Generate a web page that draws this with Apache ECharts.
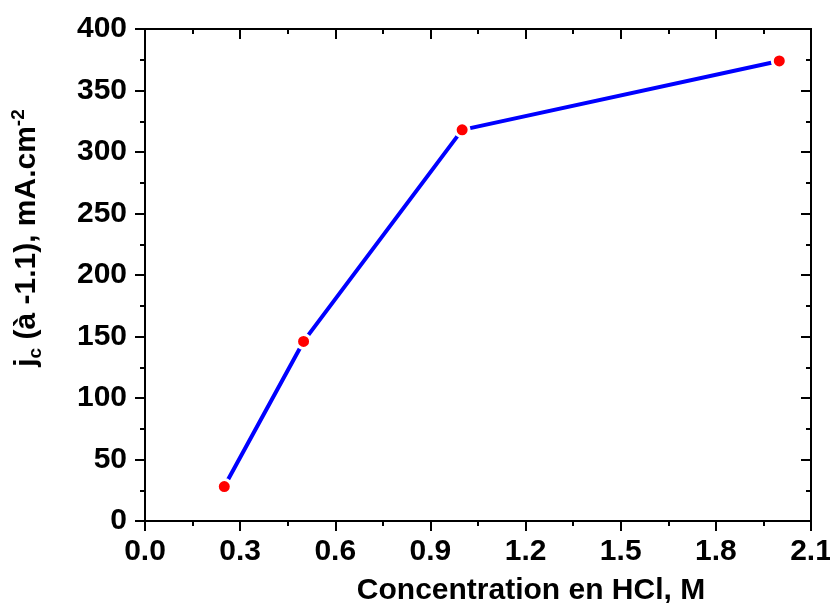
<!DOCTYPE html>
<html>
<head>
<meta charset="utf-8">
<script src="https://cdn.jsdelivr.net/npm/echarts@6/dist/echarts.min.js"></script>
<style>
  html, body { margin: 0; padding: 0; background: #fff; }
</style>
</head>
<body>
<div id="main" style="width: 830px; height: 603px;"></div>
<script>
  // concentration (M) vs current density
  var conc = [0.25, 0.5, 1.0, 2.0]
  var jc = [28, 146, 318, 374]
  var xMin = 0, xMax = 2.1, xStep = 0.3
  var yMin = 0, yMax = 400, yStep = 50

  var font = '"Liberation Sans", Arial, sans-serif'
  var labelStyle = { fontFamily: font, fontWeight: 'bold', fontSize: 30, color: '#000' }
  var lineStyle = { color: '#000', width: 2 }

  var chart = echarts.init(document.getElementById('main'))
  var points = []
  for (var i = 0; i < conc.length; i++) {
    points.push([conc[i], jc[i]])
  }

  chart.setOption({
    animation: false,
    grid: {
      left: 145, right: 19, top: 29, bottom: 82,
      outerBoundsMode: 'none',
      containLabel: false,
      show: true,
      borderColor: '#000',
      borderWidth: 2
    },
    xAxis: [{
      type: 'value',
      position: 'bottom',
      min: xMin, max: xMax, interval: xStep,
      name: 'Concentration en HCl, M',
      nameLocation: 'middle',
      nameGap: 55,
      nameTextStyle: { fontFamily: font, fontWeight: 'bold', fontSize: 30, color: '#000', padding: [0, 0, 0, 106] },
      axisLine: { show: true, onZero: false, lineStyle: lineStyle },
      axisTick: { length: 10, lineStyle: lineStyle },
      minorTick: { show: true, splitNumber: 2, length: 5, lineStyle: lineStyle },
      splitLine: { show: false },
      axisLabel: Object.assign({ margin: 16, formatter: function (v) { return v.toFixed(1) } }, labelStyle)
    }, {
      type: 'value',
      position: 'top',
      min: xMin, max: xMax, interval: xStep,
      axisLine: { show: true, onZero: false, lineStyle: lineStyle },
      axisTick: { inside: true, length: 10, lineStyle: lineStyle },
      minorTick: { show: true, splitNumber: 2, length: 5, lineStyle: lineStyle },
      splitLine: { show: false },
      axisLabel: { show: false }
    }],
    yAxis: [{
      type: 'value',
      position: 'left',
      min: yMin, max: yMax, interval: yStep,
      name: '{b|j}{sub|c}{b| (à -1.1), mA.cm}{sup|-2}',
      nameLocation: 'middle',
      nameGap: 100,
      nameTextStyle: {
        padding: [0, 0, 0, 74],
        rich: {
          b: { fontFamily: font, fontWeight: 'bold', fontSize: 30, color: '#000', lineHeight: 36 },
          sub: { fontFamily: font, fontWeight: 'bold', fontSize: 19, color: '#000', lineHeight: 36, verticalAlign: 'bottom', padding: [12, 0, 0, 0] },
          sup: { fontFamily: font, fontWeight: 'bold', fontSize: 19, color: '#000', lineHeight: 36, verticalAlign: 'top', padding: [0, 0, 14, 0] }
        }
      },
      axisLine: { show: true, onZero: false, lineStyle: lineStyle },
      axisTick: { length: 10, lineStyle: lineStyle },
      minorTick: { show: true, splitNumber: 2, length: 5, lineStyle: lineStyle },
      splitLine: { show: false },
      axisLabel: Object.assign({ margin: 18 }, labelStyle)
    }, {
      type: 'value',
      position: 'right',
      min: yMin, max: yMax, interval: yStep,
      axisLine: { show: true, onZero: false, lineStyle: lineStyle },
      axisTick: { inside: true, length: 10, lineStyle: lineStyle },
      minorTick: { show: true, splitNumber: 2, length: 5, lineStyle: lineStyle },
      splitLine: { show: false },
      axisLabel: { show: false }
    }],
    series: [{
      type: 'line',
      data: points,
      symbol: 'circle',
      symbolSize: 14,
      lineStyle: { color: '#0000ff', width: 4 },
      itemStyle: { color: '#ff0000', borderColor: '#fff', borderWidth: 3 }
    }]
  })
</script>
</body>
</html>
